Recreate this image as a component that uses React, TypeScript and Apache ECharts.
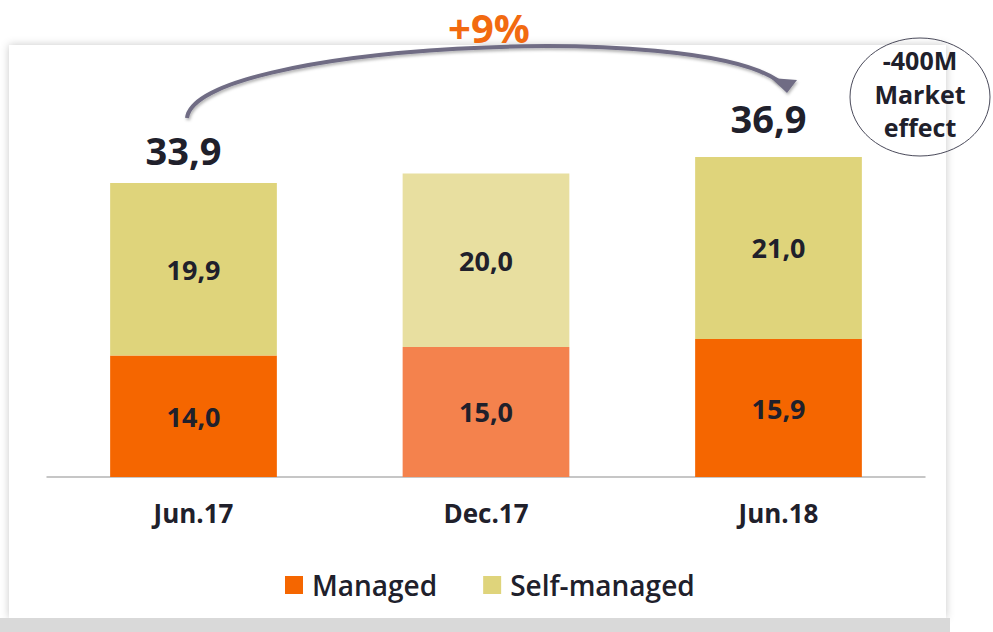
import React, { useEffect, useRef } from "react";
import * as echarts from "echarts";

const categories = ["Jun.17", "Dec.17", "Jun.18"];
const managed = [14.0, 15.0, 15.9];
const selfManaged = [19.9, 20.0, 21.0];
const totals = [33.9, null, 36.9];
const seriesNames = ["Managed", "Self-managed"];
const growthLabel = "+9%";
const noteLines = ["-400M", "Market", "effect"];

const ORANGE = "#F56600";
const ORANGE_LIGHT = "#F4824D";
const YELLOW = "#DFD47B";
const YELLOW_LIGHT = "#E8DFA0";
const TEXT = "#20202B";
const FONT = "'Open Sans', 'DejaVu Sans', sans-serif";

const fmt = (v: number) => v.toFixed(1).replace(".", ",");

export default function App() {
  const ref = useRef<HTMLDivElement>(null);
  useEffect(() => {
    if (!ref.current) return;
    const chart = echarts.init(ref.current, undefined, { renderer: "svg" });
    const highlight = 1; // Dec.17 drawn lighter
    chart.setOption({
      animation: false,
      backgroundColor: "#ffffff",
      grid: { left: 47.25, right: 68.25, top: 130, bottom: 155, containLabel: false },
      legend: {
        data: seriesNames,
        left: 280,
        top: 566,
        icon: "rect",
        itemWidth: 18,
        itemHeight: 18,
        itemGap: 46,
        textStyle: { fontFamily: FONT, fontSize: 28, fontWeight: 600, color: TEXT, padding: [0, 0, 0, 4] },
      },
      xAxis: {
        type: "category",
        data: categories,
        axisTick: { show: false },
        axisLine: { lineStyle: { color: "#c6c6c6", width: 2 } },
        axisLabel: { fontFamily: FONT, fontSize: 26, fontWeight: 700, color: TEXT, margin: 23 },
      },
      yAxis: { type: "value", min: 0, max: 40, show: false, splitLine: { show: false } },
      series: [
        {
          name: seriesNames[0],
          type: "bar",
          stack: "t",
          barWidth: "57%",
          itemStyle: { color: ORANGE },
          data: managed.map((v, i) => ({ value: v, itemStyle: { color: i === highlight ? ORANGE_LIGHT : ORANGE } })),
          label: { show: true, position: "inside", formatter: (p: any) => fmt(p.value), fontFamily: FONT, fontSize: 27, fontWeight: 700, color: TEXT },
        },
        {
          name: seriesNames[1],
          type: "bar",
          stack: "t",
          barWidth: "57%",
          itemStyle: { color: YELLOW },
          data: selfManaged.map((v, i) => ({ value: v, itemStyle: { color: i === highlight ? YELLOW_LIGHT : YELLOW } })),
          label: { show: true, position: "inside", formatter: (p: any) => fmt(p.value), fontFamily: FONT, fontSize: 27, fontWeight: 700, color: TEXT },
        },
        {
          name: "Total",
          type: "scatter",
          symbolSize: 0,
          silent: true,
          itemStyle: { opacity: 1 },
          data: totals.map((v, i) => (v == null ? null : {
            value: [i, v],
            label: { offset: i === 0 ? [-10, -33] : [-10, -39] },
          })).filter((d) => d != null),
          label: {
            show: true,
            position: "inside",
            formatter: (p: any) => fmt(p.value[1]),
            fontFamily: FONT,
            fontSize: 38,
            fontWeight: 700,
            color: TEXT,
            opacity: 1,
          },
        },
      ],
      graphic: [
        {
          type: "rect",
          z: -10,
          shape: { x: 9, y: 45, width: 937, height: 573 },
          style: { fill: "#ffffff", shadowBlur: 8, shadowColor: "rgba(0,0,0,0.22)" },
          silent: true,
        },
        {
          type: "rect",
          z: -9,
          shape: { x: 0, y: 618, width: 950, height: 14 },
          style: { fill: "#d9d9d9" },
          silent: true,
        },
        {
          type: "bezierCurve",
          z: 20,
          shape: { x1: 187, y1: 118, cpx1: 195, cpy1: 45, cpx2: 700, cpy2: 18, x2: 781, y2: 83 },
          style: { stroke: "#6F6C84", lineWidth: 4, fill: null, shadowBlur: 3, shadowOffsetX: 1, shadowOffsetY: 2, shadowColor: "rgba(0,0,0,0.3)" },
          silent: true,
        },
        {
          type: "polygon",
          z: 20,
          shape: { points: [[771, 78], [797, 80], [787, 93]] },
          style: { fill: "#6F6C84", shadowBlur: 3, shadowOffsetX: 1, shadowOffsetY: 2, shadowColor: "rgba(0,0,0,0.3)" },
          silent: true,
        },
        {
          type: "text",
          z: 20,
          x: 489,
          y: 27,
          style: { text: growthLabel, fill: "#F26A10", fontFamily: FONT, fontSize: 40, fontWeight: 700, align: "center", verticalAlign: "middle" },
          silent: true,
        },
        {
          type: "ellipse",
          z: 20,
          shape: { cx: 920, cy: 97, rx: 70, ry: 59 },
          style: { fill: "rgba(255,255,255,0)", stroke: "#4a4a5a", lineWidth: 1 },
          silent: true,
        },
        ...noteLines.map((t, i) => ({
          type: "text",
          z: 21,
          x: 920,
          y: [60, 94, 127][i],
          style: { text: t, fill: TEXT, fontFamily: FONT, fontSize: 25, fontWeight: 700, align: "center", verticalAlign: "middle" },
          silent: true,
        })),
      ],
    });
    return () => chart.dispose();
  }, []);
  return <div ref={ref} style={{ position: "fixed", left: 0, top: 0, width: 993, height: 632 }} />;
}
